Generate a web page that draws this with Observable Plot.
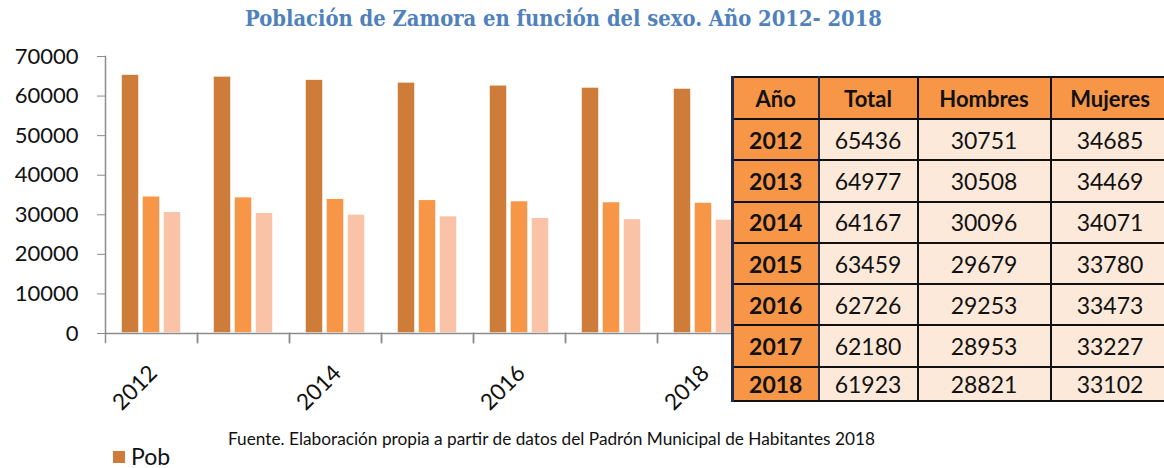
<!DOCTYPE html>
<html><head><meta charset="utf-8">
<script src="https://cdn.jsdelivr.net/npm/d3@7"></script>
<script src="https://cdn.jsdelivr.net/npm/@observablehq/plot@0.6"></script>
<style>
body{margin:0;background:#fff;}
#wrap{position:relative;width:1164px;height:468px;overflow:hidden;background:#fff;}
#title{position:absolute;top:6px;left:245px;white-space:nowrap;font-family:"DejaVu Serif",serif;font-weight:bold;font-size:21.5px;color:#4f81bd;transform-origin:0 0;}
#chart{position:absolute;left:0;top:0;}
#tbl{position:absolute;left:731px;top:76px;border-collapse:collapse;table-layout:fixed;width:437px;font-family:Lato,"Open Sans",sans-serif;color:#111;}
#tbl td,#tbl th{border:2px solid #111;text-align:center;padding:0;font-size:23px;overflow:hidden;}
#tbl th{background:#f79646;font-weight:bold;height:40px;font-size:22px;}
#tbl td{background:#fde9d9;height:39.3px;}
#tbl tr.last td{height:32px;}
#tbl td.y{background:#f79646;font-weight:bold;}
#tbl .y,#tbl th.yh{border-left:3px solid #1f2d4d;border-right:2px solid #1f2d4d;}
#legend{position:absolute;left:113px;top:443px;width:57px;height:25px;overflow:hidden;font-family:Lato,"Open Sans",sans-serif;font-size:23px;color:#111;white-space:nowrap;line-height:1.2;}
#legend span.sw{position:relative;top:-2px;display:inline-block;width:12px;height:12px;margin-right:6px;vertical-align:middle;}
#caption{position:absolute;left:170px;top:425px;width:735px;height:43px;background:#fff;font-family:Lato,"Open Sans",sans-serif;font-size:17.3px;color:#111;}
#caption div{position:absolute;left:58px;top:3px;white-space:nowrap;transform-origin:0 0;}
</style></head>
<body>
<div id="wrap">
  <div id="chart"></div>
  <div id="title">Población de Zamora en función del sexo. Año 2012- 2018</div>
  <table id="tbl"><colgroup><col style="width:86px"><col style="width:99px"><col style="width:133px"><col style="width:119px"></colgroup></table>
  <div id="legend"></div>
  <div id="caption"><div id="captext">Fuente. Elaboración propia a partir de datos del Padrón Municipal de Habitantes 2018</div></div>
</div>
<script>
const years = ["2012","2013","2014","2015","2016","2017","2018"];
const total = [65436,64977,64167,63459,62726,62180,61923];
const hombres = [30751,30508,30096,29679,29253,28953,28821];
const mujeres = [34685,34469,34071,33780,33473,33227,33102];
const seriesNames = ["Total","Mujeres","Hombres"];
const seriesColors = ["#cd7c39","#f79646","#fac2a6"];
const legendLabels = ["Población total"];
const tableHeaders = ["Año","Total","Hombres","Mujeres"];
const labelYears = ["2012","2014","2016","2018"];
const yTicks = [0,10000,20000,30000,40000,50000,60000,70000];

const rows = [];
years.forEach((y,i)=>{
  rows.push({year:y, series:"Total", value:total[i]});
  rows.push({year:y, series:"Mujeres", value:mujeres[i]});
  rows.push({year:y, series:"Hombres", value:hombres[i]});
});

const axisGray = "#8c8c8c";
const plot = Plot.plot({
  width: 760, height: 430,
  marginLeft: 105, marginRight: 11, marginTop: 56, marginBottom: 97,
  style: {fontFamily: "Lato, 'Open Sans', sans-serif", fontSize: "22px", color: "#111", background: "transparent"},
  fx: {domain: years, padding: 0, label: null},
  x: {domain: seriesNames, paddingInner: 1/7, paddingOuter: 0.76, axis: null, label: null},
  y: {domain: [0,70000], label: null, axis: null},
  color: {domain: seriesNames, range: seriesColors},
  marks: [
    Plot.barY(rows, {fx:"year", x:"series", y:"value", fill:"series", stroke:"white", strokeWidth:1.5,
      style:"filter: drop-shadow(0px 0px 1.5px rgba(0,0,0,0.25))"}),
    Plot.ruleY([0], {stroke: axisGray, strokeWidth: 1.5}),
    Plot.frame({anchor:"left", facetAnchor:"left", stroke: axisGray, strokeWidth: 1.5}),
    Plot.frame({anchor:"left", insetTop: 277, insetBottom: -9, stroke: axisGray, strokeWidth: 1.5}),
    Plot.frame({anchor:"right", insetTop: 277, insetBottom: -9, stroke: axisGray, strokeWidth: 1.5}),
    Plot.axisY({ticks: yTicks, tickSize: 8, tickPadding: 19, stroke: axisGray, fontSize: 22, tickFormat: d=>String(d)}),
    Plot.axisFx({anchor:"bottom", ticks: labelYears, tickSize: 0, tickPadding: 36, dx: 2, tickRotate: -45, fontSize: 22.5, label: null})
  ]
});
document.getElementById("chart").appendChild(plot);

// fit title and caption widths to the reference extents
function fit(id, w){
  const el = document.getElementById(id);
  const cur = el.getBoundingClientRect().width;
  el.style.transform = `scaleX(${w/cur})`;
}
fit("title", 637);
fit("captext", 647);

// table
const tbl = document.getElementById("tbl");
const head = document.createElement("tr");
tableHeaders.forEach((t,j)=>{
  const th = document.createElement("th"); th.textContent = t;
  if(j===0) th.className="yh";
  head.appendChild(th);
});
tbl.appendChild(head);
years.forEach((y,i)=>{
  const tr = document.createElement("tr");
  if(i===years.length-1) tr.className="last";
  [y,total[i],hombres[i],mujeres[i]].forEach((v,j)=>{
    const td = document.createElement("td"); td.textContent = v;
    if(j===0) td.className="y";
    tr.appendChild(td);
  });
  tbl.appendChild(tr);
});

// legend (cut off by the caption box, as in the reference)
const lg = document.getElementById("legend");
legendLabels.forEach((l,i)=>{
  const sw = document.createElement("span"); sw.className="sw"; sw.style.background = seriesColors[i];
  lg.appendChild(sw); lg.appendChild(document.createTextNode(l));
});
</script>
</body></html>
